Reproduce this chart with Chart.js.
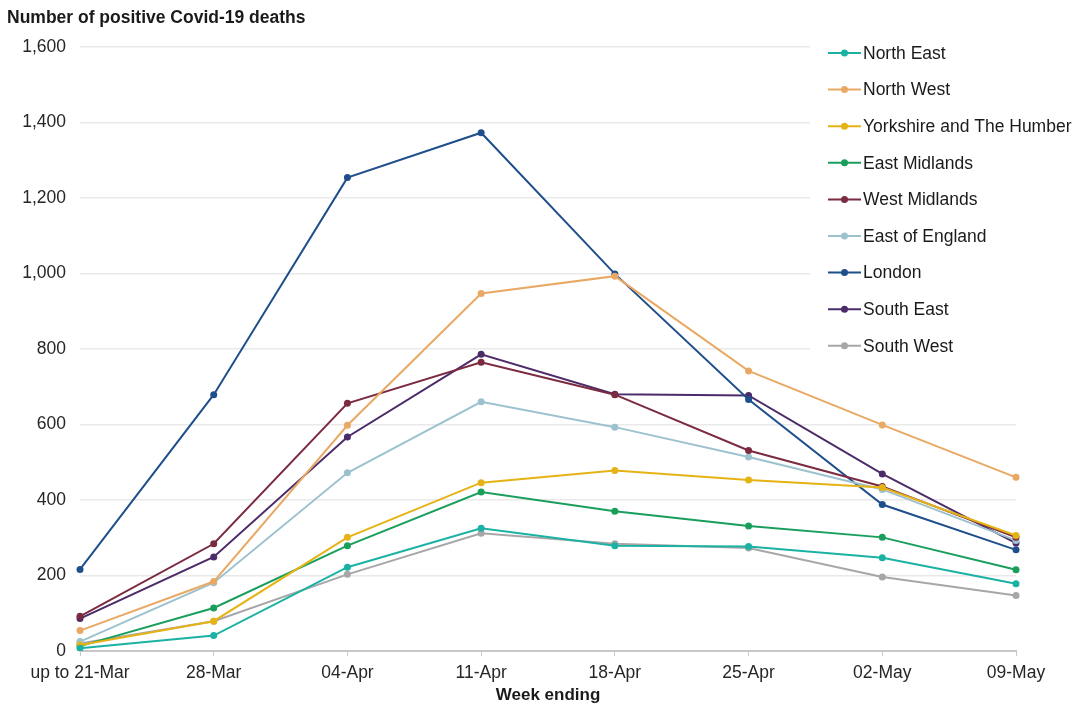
<!DOCTYPE html>
<html lang="en">
<head>
  <meta charset="UTF-8" />
  <title>Covid-19 deaths by region</title>
  <script src="https://cdn.jsdelivr.net/npm/chart.js"></script>
  <style>
    html, body { margin: 0; padding: 0; background: #fff; }
    .grafico-container { width: 1077px; height: 706px; position: relative; }
  </style>
</head>
<body>
  <div class="grafico-container">
    <canvas id="graficoMortes"></canvas>
  </div>

<script>
  // week ending labels
  const semanas = ['up to 21-Mar', '28-Mar', '04-Apr', '11-Apr', '18-Apr', '25-Apr', '02-May', '09-May'];

  const northEast     = [7, 41, 222, 325, 279, 277, 247, 178];
  const northWest     = [54, 184, 598, 947, 993, 742, 599, 460];
  const yorkshire     = [16, 79, 301, 446, 478, 453, 433, 306];
  const eastMidlands  = [13, 114, 279, 421, 370, 331, 301, 215];
  const westMidlands  = [92, 284, 656, 765, 679, 531, 436, 301];
  const eastEngland   = [25, 181, 472, 660, 593, 514, 428, 293];
  const london        = [216, 679, 1254, 1373, 999, 666, 388, 268];
  const southEast     = [86, 249, 567, 786, 680, 677, 469, 286];
  const southWest     = [20, 79, 203, 312, 284, 273, 196, 147];

  const regioes = ['North East', 'North West', 'Yorkshire and The Humber', 'East Midlands', 'West Midlands',
                   'East of England', 'London', 'South East', 'South West'];
  const cores = ['#1bb2a4', '#e9a964', '#e5b315', '#1a9e5c', '#7b2b40', '#9dc2cf', '#1f4f8b', '#4c2b69', '#a7a7a9'];
  const series = [northEast, northWest, yorkshire, eastMidlands, westMidlands, eastEngland, london, southEast, southWest];

  const yTicks = [0, 200, 400, 600, 800, 1000, 1200, 1400, 1600];

  const fonte = "'Liberation Sans', Arial, sans-serif";

  // legenda desenhada a mao, em cima da area do grafico
  const legendaPlugin = {
    id: 'legendaDireita',
    beforeDatasetsDraw(chart) {
      const ctx = chart.ctx;
      ctx.save();
      ctx.fillStyle = '#fff';
      ctx.fillRect(810, 34, 267, 330);
      ctx.restore();
    },
    afterDraw(chart) {
      const ctx = chart.ctx;
      ctx.save();
      // titulo do eixo y
      ctx.font = "bold 17.5px " + fonte;
      ctx.fillStyle = '#1a1a1a';
      ctx.textBaseline = 'middle';
      ctx.textAlign = 'left';
      ctx.fillText('Number of positive Covid-19 deaths', 7, 18);

      ctx.font = "17.5px " + fonte;
      chart.data.datasets.forEach((ds, i) => {
        const y = 53 + i * 36.6;
        ctx.strokeStyle = ds.borderColor;
        ctx.lineWidth = 2;
        ctx.beginPath();
        ctx.moveTo(828, y);
        ctx.lineTo(861, y);
        ctx.stroke();
        ctx.fillStyle = ds.borderColor;
        ctx.beginPath();
        ctx.arc(844.5, y, 3.5, 0, Math.PI * 2);
        ctx.fill();
        ctx.fillStyle = '#1a1a1a';
        ctx.fillText(ds.label, 863, y + 1);
      });
      ctx.restore();
    }
  };

  const ctx = document.getElementById('graficoMortes').getContext('2d');
  new Chart(ctx, {
    type: 'line',
    data: {
      labels: semanas,
      datasets: series.map((valores, i) => ({
        label: regioes[i],
        data: valores,
        borderColor: cores[i],
        backgroundColor: cores[i],
        borderWidth: 2,
        pointRadius: 3.5,
        pointBorderWidth: 0,
        tension: 0
      }))
    },
    options: {
      responsive: true,
      maintainAspectRatio: false,
      animation: false,
      layout: { padding: { top: 47, right: 61, left: 0, bottom: 0 } },
      plugins: {
        legend: { display: false },
        title: { display: false },
        tooltip: { enabled: false }
      },
      scales: {
        x: {
          offset: false,
          grid: { display: true, drawOnChartArea: false, drawTicks: true, tickLength: 5, color: '#c8c8c8' },
          border: { display: true, color: '#c8c8c8', width: 2 },
          ticks: { color: '#262626', font: { family: fonte, size: 17.5 }, padding: 7, maxRotation: 0, autoSkip: false },
          title: { display: true, text: 'Week ending', color: '#1a1a1a', font: { family: fonte, size: 17, weight: 'bold' }, padding: 0 },
          afterFit: scale => { scale.height = 55; }
        },
        y: {
          min: 0,
          max: 1600,
          afterBuildTicks: scale => { scale.ticks = yTicks.map(v => ({ value: v })); },
          grid: { color: '#e9e9e9', drawTicks: false, lineWidth: 1.5 },
          border: { display: false },
          ticks: {
            color: '#262626',
            font: { family: fonte, size: 17.5 },
            padding: 14,
            callback: v => v.toLocaleString('en-GB')
          },
          afterFit: scale => { scale.width = 80; }
        }
      }
    },
    plugins: [legendaPlugin]
  });
</script>
</body>
</html>
